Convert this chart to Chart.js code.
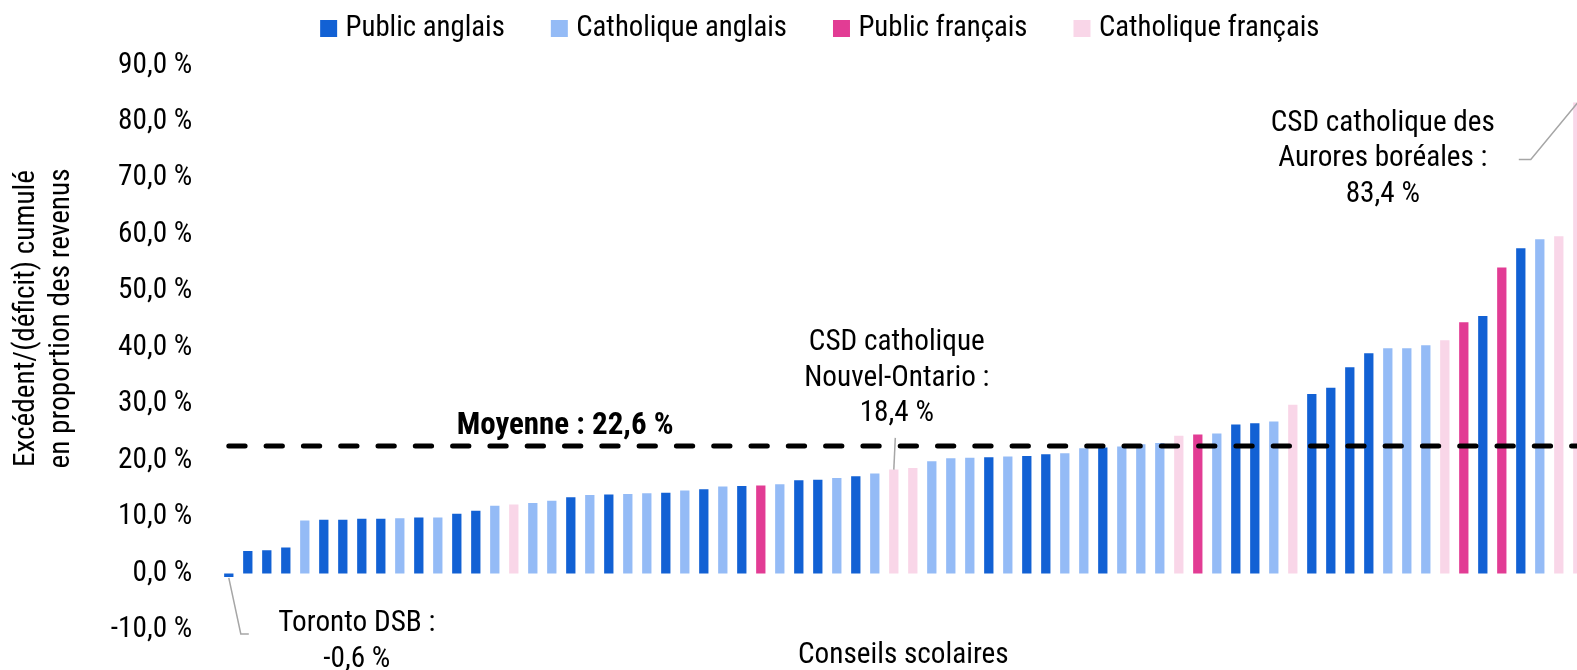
<!DOCTYPE html>
<html lang="fr">
<head>
<meta charset="utf-8">
<title>Excédent cumulé des conseils scolaires</title>
<script src="https://cdn.jsdelivr.net/npm/chart.js@4.4.1/dist/chart.umd.min.js"></script>
<style>
  html, body { margin: 0; padding: 0; background: #fff; overflow: hidden; }
  #wrap { position: relative; width: 1600px; height: 670px; }
</style>
</head>
<body>
<div id="wrap"><canvas id="boardChart" width="1600" height="670"></canvas></div>
<script>
/* ---------------------------
   Data (72 boards, sorted)
---------------------------- */
const boardValues = [
    -0.6, 4.0, 4.1, 4.6, 9.4, 9.5, 9.5, 9.7, 9.7, 9.8,
    9.9, 9.9, 10.6, 11.1, 12.0, 12.2, 12.5, 12.9, 13.5, 13.9,
    14.0, 14.1, 14.2, 14.3, 14.7, 14.9, 15.4, 15.5, 15.6, 15.8,
    16.5, 16.6, 16.9, 17.2, 17.7, 18.4, 18.7, 19.9, 20.4, 20.5,
    20.6, 20.7, 20.8, 21.1, 21.3, 22.2, 22.3, 22.5, 22.9, 23.1,
    24.4, 24.6, 24.8, 26.4, 26.6, 26.9, 29.9, 31.8, 32.9, 36.5,
    39.0, 39.9, 39.9, 40.4, 41.3, 44.5, 45.6, 54.2, 57.6, 59.2,
    59.7, 83.4
];

// PA = public anglais, CA = catholique anglais, PF = public français, CF = catholique français
const boardTypes = [
    "PA", "PA", "PA", "PA", "CA", "PA", "PA", "PA", "PA", "CA",
    "PA", "CA", "PA", "PA", "CA", "CF", "CA", "CA", "PA", "CA",
    "PA", "CA", "CA", "PA", "CA", "PA", "CA", "PA", "PF", "CA",
    "PA", "PA", "CA", "PA", "CA", "CF", "CF", "CA", "CA", "CA",
    "PA", "CA", "PA", "PA", "CA", "CA", "PA", "CA", "CA", "CA",
    "CF", "PF", "CA", "PA", "PA", "CA", "CF", "PA", "PA", "PA",
    "PA", "CA", "CA", "CA", "CF", "PF", "PA", "PF", "PA", "CA",
    "CF", "CF"
];

const seriesCodes = ["PA", "CA", "PF", "CF"];
const seriesLabels = ["Public anglais", "Catholique anglais", "Public français", "Catholique français"];
const seriesColors = ["#1261d4", "#94bbf6", "#e23c94", "#f9d6e8"];

const averageValue = 22.6;
const yMin = -10;
const yMax = 90;
const yStep = 10;

const boardLabels = boardValues.map((_, i) => String(i + 1));

const fmtPct = v => v.toFixed(1).replace(".", ",") + " %";

/* ---------------------------
   Pick a narrow font
---------------------------- */
const probeCtx = document.createElement("canvas").getContext("2d");
function textWidth(font, text) {
    probeCtx.font = font;
    return probeCtx.measureText(text).width;
}

function pickFont() {
    const probe = "Catholique français 90,0 %";
    const base = textWidth("40px monospace", probe);
    const named = ["Liberation Sans Narrow", "Arial Narrow", "Nimbus Sans Narrow", "Roboto Condensed", "Noto Sans Condensed"];
    for (const n of named) {
        if (textWidth(`40px '${n}', monospace`, probe) !== base) {
            return { family: `'${n}', sans-serif`, stretch: "" };
        }
    }
    for (const n of ["Noto Sans", "Roboto", "Open Sans", "DejaVu Sans"]) {
        const normal = textWidth(`40px '${n}'`, probe);
        const cond = textWidth(`normal condensed 40px '${n}'`, probe);
        if (cond < normal * 0.95) return { family: `'${n}', sans-serif`, stretch: "condensed" };
    }
    if (textWidth("40px 'DejaVu Sans Condensed', monospace", probe) !== base) {
        return { family: "'DejaVu Sans Condensed', sans-serif", stretch: "" };
    }
    return { family: "'Liberation Sans', sans-serif", stretch: "" };
}

const picked = pickFont();
const FAMILY = picked.family;
const STRETCH = picked.stretch;

const cssFont = (size, bold) =>
    `${bold ? "bold " : ""}${STRETCH ? STRETCH + " " : ""}${size}px ${FAMILY}`;

// sizes tuned so widths match the original narrow typeface
const legendSize = 32 * 220.6 / textWidth(cssFont(32), "Catholique français");
const textSize = 31 * 176 / textWidth(cssFont(31), "CSD catholique");
const boldSize = 31 * 217 / textWidth(cssFont(31, true), "Moyenne : 22,6 %");

const chartFont = (size, extra = {}) => {
    const weight = [extra.bold ? "bold" : "", STRETCH].filter(Boolean).join(" ");
    const f = { size, family: FAMILY, lineHeight: extra.lineHeight || 1.2 };
    if (weight) f.weight = weight;
    return f;
};

/* ---------------------------
   Annotations plugin
---------------------------- */
const annotationPlugin = {
    id: "annotations",
    afterDatasetsDraw(chart) {
        const { ctx, chartArea, scales: { x, y } } = chart;
        const avgY = y.getPixelForValue(averageValue);

        ctx.save();

        // average line
        ctx.beginPath();
        ctx.setLineDash([16.3, 21]);
        ctx.lineCap = "round";
        ctx.lineWidth = 5;
        ctx.strokeStyle = "#000";
        ctx.moveTo(x.getPixelForValue(0), avgY);
        ctx.lineTo(chartArea.right, avgY);
        ctx.stroke();
        ctx.setLineDash([]);

        ctx.fillStyle = "#000";
        ctx.textAlign = "center";
        ctx.textBaseline = "middle";
        ctx.font = cssFont(boldSize, true);
        ctx.fillText("Moyenne : " + fmtPct(averageValue), x.getPixelForValue(17.7), avgY - 20);

        // leader lines
        ctx.strokeStyle = "#a6a6a6";
        ctx.lineWidth = 1.5;
        ctx.lineCap = "butt";

        // Toronto DSB
        const tx = x.getPixelForValue(0);
        const ty = y.getPixelForValue(boardValues[0]);
        const tBase = y.getPixelForValue(yMin) + 4;
        ctx.beginPath();
        ctx.moveTo(tx, ty + 1);
        ctx.lineTo(tx + 12, tBase);
        ctx.lineTo(tx + 20, tBase);
        ctx.stroke();

        // Nouvel-Ontario
        const nx = x.getPixelForValue(35);
        const ny = y.getPixelForValue(boardValues[35]);
        ctx.beginPath();
        ctx.moveTo(nx, ny);
        ctx.lineTo(nx + 1.5, avgY - 8);
        ctx.stroke();

        // Aurores boréales
        const ax = x.getPixelForValue(71);
        const ay = y.getPixelForValue(boardValues[71]);
        ctx.beginPath();
        ctx.moveTo(ax, ay);
        ctx.lineTo(ax - 47, ay + 57);
        ctx.lineTo(ax - 59, ay + 57);
        ctx.stroke();

        ctx.font = cssFont(textSize);
        const lh = 35.5;
        const drawLines = (lines, cx, cy) => {
            lines.forEach((t, i) => ctx.fillText(t, cx, cy + i * lh));
        };
        drawLines(["Toronto DSB :", fmtPct(boardValues[0])], tx + 128, tBase - 10);
        drawLines(["CSD catholique", "Nouvel-Ontario :", fmtPct(boardValues[35])], nx + 3, avgY - 103);
        drawLines(["CSD catholique des", "Aurores boréales :", fmtPct(boardValues[71])], ax - 195, ay + 21);

        ctx.restore();
    },
    afterDraw(chart) {
        // two-line y axis title
        const { ctx } = chart;
        ctx.save();
        ctx.translate(0, 318.5);
        ctx.rotate(-Math.PI / 2);
        ctx.fillStyle = "#000";
        ctx.font = cssFont(textSize);
        ctx.textAlign = "center";
        ctx.textBaseline = "middle";
        ctx.fillText("Excédent/(déficit) cumulé", 0, 27);
        ctx.fillText("en proportion des revenus", 0, 62);
        ctx.restore();
    }
};

/* ---------------------------
   Build chart
---------------------------- */
Chart.defaults.font.family = FAMILY;
Chart.defaults.color = "#000";

const datasets = seriesCodes.map((code, s) => ({
    label: seriesLabels[s],
    data: boardValues.map((v, i) => boardTypes[i] === code ? v : null),
    backgroundColor: seriesColors[s],
    borderWidth: 0,
    barPercentage: 0.49,
    categoryPercentage: 1
}));

const ctx = document.getElementById("boardChart").getContext("2d");

new Chart(ctx, {
    type: "bar",
    data: { labels: boardLabels, datasets },
    options: {
        responsive: false,
        animation: false,
        devicePixelRatio: 1,
        layout: {
            padding: { top: -38, left: 58.3, right: 12.7, bottom: 0 }
        },
        scales: {
            x: {
                stacked: true,
                grid: { display: false, drawTicks: false },
                border: { display: false },
                ticks: { display: false },
                title: {
                    display: true,
                    text: "Conseils scolaires",
                    font: chartFont(textSize, { lineHeight: "28px" }),
                    padding: { top: 12, bottom: 0 }
                }
            },
            y: {
                stacked: true,
                min: yMin,
                max: yMax,
                grid: { display: false, drawTicks: false },
                border: { display: false },
                ticks: {
                    stepSize: yStep,
                    autoSkip: false,
                    padding: 27,
                    font: chartFont(textSize, { lineHeight: 0.7 }),
                    callback: value => fmtPct(value)
                },
                afterFit: scale => { scale.width = 161; }
            }
        },
        plugins: {
            legend: {
                position: "top",
                weight: 3000,
                labels: {
                    boxWidth: 5,
                    boxHeight: 5,
                    padding: 52,
                    font: chartFont(legendSize),
                    // thick matching border makes a 17px square sitting close to the text
                    generateLabels: chart =>
                        Chart.defaults.plugins.legend.labels.generateLabels(chart).map(item => ({
                            ...item,
                            lineWidth: 12,
                            strokeStyle: item.fillStyle
                        }))
                }
            },
            // empty title used as spacing under the legend
            title: {
                display: true,
                text: "",
                padding: 0,
                font: { size: 12.4, lineHeight: 1 }
            },
            tooltip: { enabled: false }
        }
    },
    plugins: [annotationPlugin]
});
</script>
</body>
</html>
